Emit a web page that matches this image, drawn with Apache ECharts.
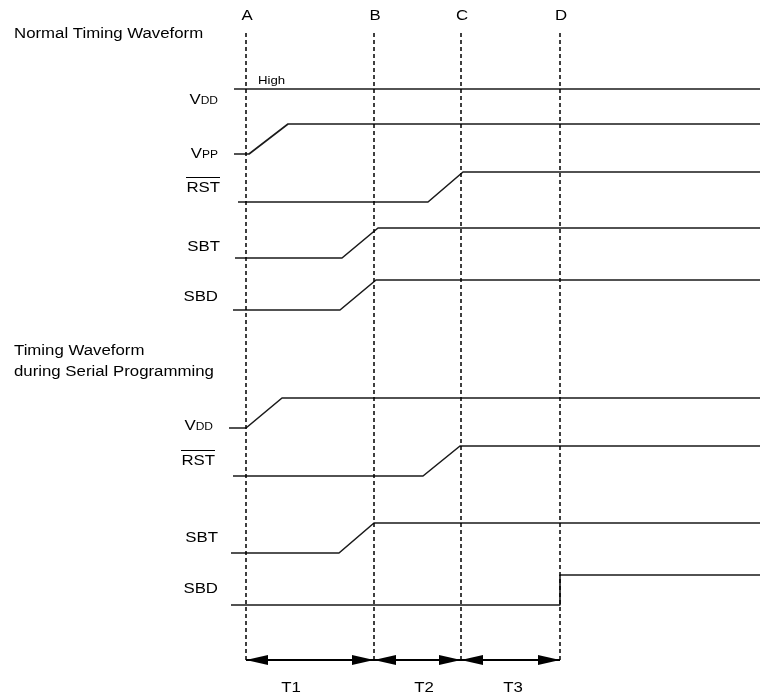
<!DOCTYPE html>
<html>
<head>
<meta charset="utf-8">
<script src="https://cdn.jsdelivr.net/npm/echarts@6/dist/echarts.min.js"></script>
<style>
    html, body { margin: 0; padding: 0; background: #fff; }
    #main { width: 760px; height: 693px; }
</style>
</head>
<body>
<div id="main"></div>
<script>
// time axis in arbitrary units, A = 0
const events = ['A', 'B', 'C', 'D']
const eventTimes = [0, 32, 53.75, 78.5]
const spans = ['T1', 'T2', 'T3']
const spanLabelAt = [11.25, 44.5, 66.75]

// waveforms: [time, level]  (0 = low, 1 = high)
const nVdd = [[-3, 1], [128.5, 1]]
const nVpp = [[-3, 0], [0.75, 0], [10.5, 1], [128.5, 1]]
const nRst = [[-2, 0], [45.5, 0], [54.25, 1], [128.5, 1]]
const nSbt = [[-2.75, 0], [24, 0], [33, 1], [128.5, 1]]
const nSbd = [[-3.25, 0], [23.5, 0], [32.5, 1], [128.5, 1]]
const sVdd = [[-4.25, 0], [0, 0], [9, 1], [128.5, 1]]
const sRst = [[-3.25, 0], [44.25, 0], [53.5, 1], [128.5, 1]]
const sSbt = [[-3.75, 0], [23.25, 0], [32, 1], [128.5, 1]]
const sSbd = [[-3.75, 0], [78.5, 0], [78.5, 1], [128.5, 1]]

// layout of each row (y of low level on the pixel-like y axis, label placement)
const SWING = 30
const rows = [
    { data: nVdd, low: 119, name: 'VDD', labelY: 99, right: 218 },
    { data: nVpp, low: 154, name: 'VPP', labelY: 153, right: 218 },
    { data: nRst, low: 202, name: 'RST', labelY: 188, right: 220 },
    { data: nSbt, low: 258, name: 'SBT', labelY: 247, right: 220 },
    { data: nSbd, low: 310, name: 'SBD', labelY: 297, right: 218 },
    { data: sVdd, low: 428, name: 'VDD', labelY: 425, right: 213 },
    { data: sRst, low: 476, name: 'RST', labelY: 461, right: 215 },
    { data: sSbt, low: 553, name: 'SBT', labelY: 538, right: 218 },
    { data: sSbd, low: 605, name: 'SBD', labelY: 589, right: 218 }
]

const FONT = 'Liberation Sans, Arial, sans-serif'
const STRETCH = 1.2
const DASH_TOP = 33
const DASH_BOTTOM = 662
const ARROW_Y = 660

const series = rows.map((r) => ({
    type: 'line',
    silent: true,
    showSymbol: false,
    symbol: 'none',
    lineStyle: { color: '#1a1a1a', width: 1.6 },
    data: r.data.map(([t, l]) => [t, r.low - l * SWING])
}))

// dashed event markers
series.push({
    type: 'line',
    silent: true,
    data: [],
    markLine: {
        silent: true,
        symbol: ['none', 'none'],
        label: { show: false },
        lineStyle: { color: '#000', width: 1.5, type: [4, 3] },
        emphasis: { disabled: true },
        data: eventTimes.map((t) => [{ coord: [t, DASH_TOP] }, { coord: [t, DASH_BOTTOM] }])
    }
})

// interval arrows
series.push({
    type: 'line',
    silent: true,
    data: [],
    markLine: {
        silent: true,
        symbol: ['triangle', 'triangle'],
        symbolSize: [10, 22],
        symbolOffset: [[0, 11], [0, 11]],
        label: { show: false },
        lineStyle: { color: '#000', width: 2, type: 'solid' },
        emphasis: { disabled: true },
        data: spans.map((s, i) => [{ coord: [eventTimes[i], ARROW_Y] }, { coord: [eventTimes[i + 1], ARROW_Y] }])
    }
})

const option = {
    animation: false,
    backgroundColor: '#fff',
    grid: { left: 229, right: 0, top: 0, bottom: 0 },
    xAxis: { type: 'value', min: -4.25, max: 128.5, show: false },
    yAxis: { type: 'value', min: 0, max: 693, inverse: true, show: false },
    series: series
}

const chart = echarts.init(document.getElementById('main'))
chart.setOption(option)

function txt(text, x, y, align, size, rich) {
    return {
        type: 'text',
        silent: true,
        x: x,
        y: y,
        scaleX: STRETCH,
        style: {
            text: text,
            fontSize: size,
            fontFamily: FONT,
            fill: '#000',
            align: align,
            verticalAlign: 'middle',
            textAlign: align,
            textVerticalAlign: 'middle',
            rich: rich
        }
    }
}

const subRich = {
    b: { fontSize: 14, fontFamily: FONT, fill: '#000', verticalAlign: 'bottom', lineHeight: 16 },
    s: { fontSize: 10, fontFamily: FONT, fill: '#000', verticalAlign: 'bottom', lineHeight: 16, padding: [0, 0, 1, 0] }
}

const graphic = []
graphic.push(txt('Normal Timing Waveform', 14, 34, 'left', 14))
graphic.push(txt('Timing Waveform', 14, 351, 'left', 14))
graphic.push(txt('during Serial Programming', 14, 372, 'left', 14))
graphic.push(txt('High', 258, 81, 'left', 11))

rows.forEach((r) => {
    if (r.name === 'VDD' || r.name === 'VPP') {
        graphic.push(txt('{b|V}{s|' + r.name.slice(1) + '}', r.right, r.labelY, 'right', 14, subRich))
    } else {
        graphic.push(txt(r.name, r.right, r.labelY, 'right', 14))
    }
    if (r.name === 'RST') {
        graphic.push({
            type: 'line',
            silent: true,
            shape: { x1: r.right - 34, y1: r.labelY - 10.5, x2: r.right, y2: r.labelY - 10.5 },
            style: { stroke: '#000', lineWidth: 1 }
        })
    }
})

events.forEach((e, i) => {
    const p = chart.convertToPixel({ gridIndex: 0 }, [eventTimes[i], 0])
    graphic.push(txt(e, p[0] + 1, 16, 'center', 14))
})

spans.forEach((s, i) => {
    const p = chart.convertToPixel({ gridIndex: 0 }, [spanLabelAt[i], 0])
    graphic.push(txt(s, p[0], 688, 'center', 14))
})

chart.setOption({ graphic: graphic })
</script>
</body>
</html>
